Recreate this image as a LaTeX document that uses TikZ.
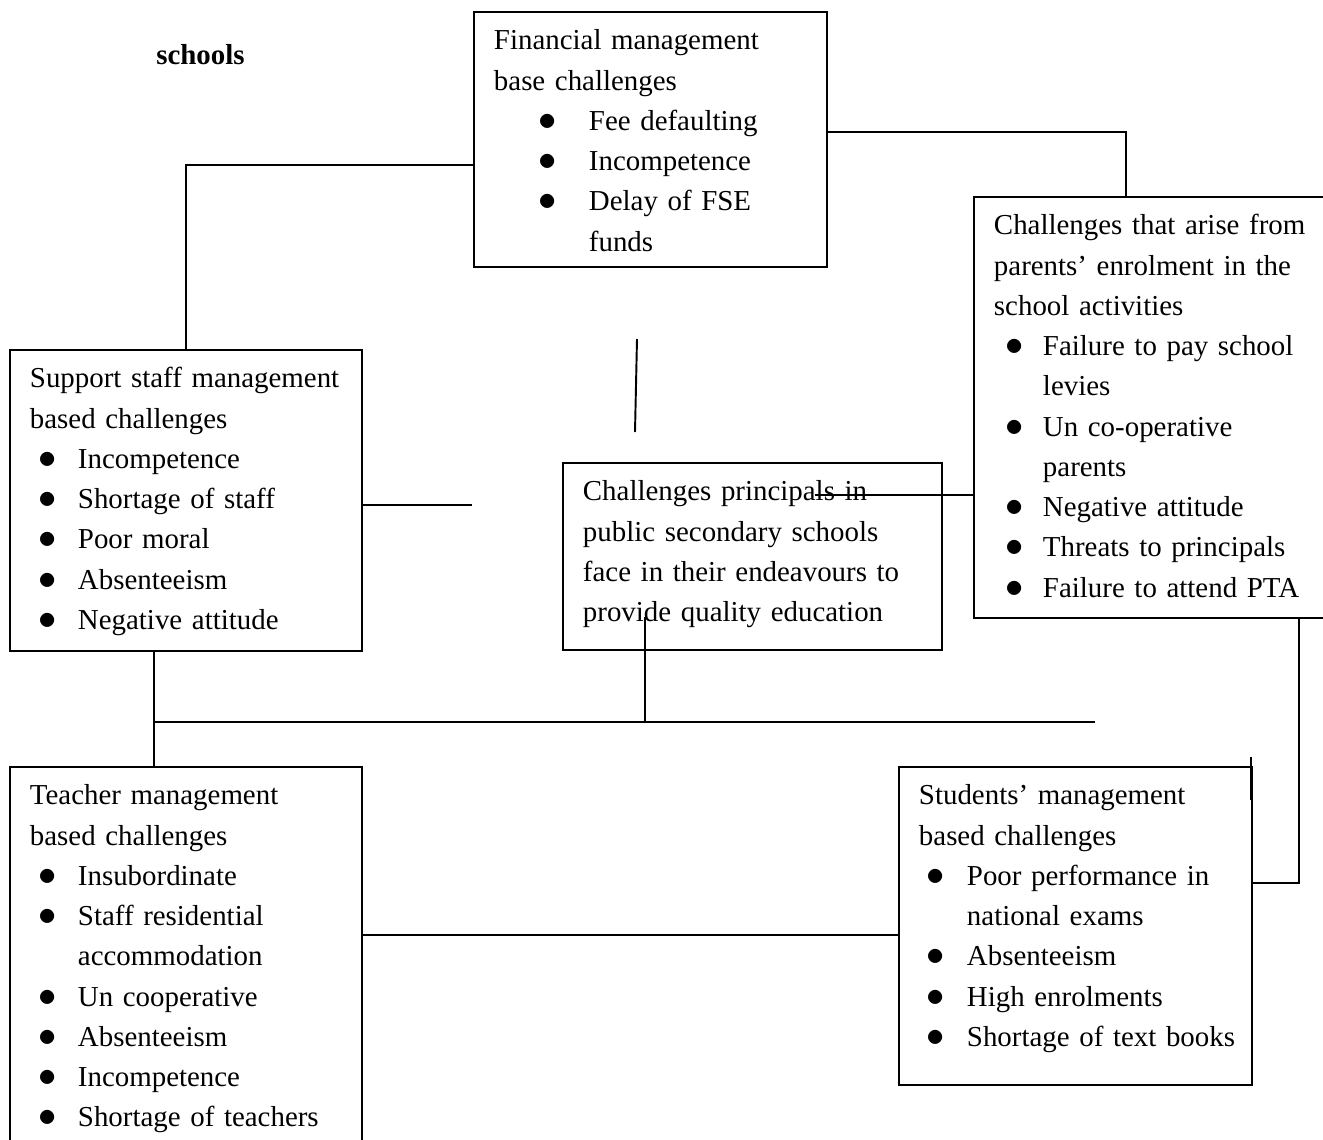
\documentclass[tikz,border=0pt]{standalone}
\usepackage{fontspec}
\setmainfont{Liberation Serif}
\usepackage{tikz}
\usetikzlibrary{calc}

\newdimen\pxu
\pxu=0.02cm
% bullet line: bullet centre, text offset, text
\newcommand{\itemb}[3]{\mbox{\makebox[#2\pxu][l]{\hspace*{#1\pxu}\makebox[0pt][c]{\scalebox{1.2}{$\bullet$}}}#3}}
% continued line of an item
\newcommand{\cont}[2]{\mbox{\hspace*{#1\pxu}#2}}

\begin{document}
\begin{tikzpicture}[
    x=0.02cm,
    y=-0.02cm,
    caixa/.style={
        draw=black,
        line width=1.1pt,
        anchor=north west,
        inner xsep=20\pxu,
        inner ysep=0pt,
        text height=38\pxu,
        align=left,
        font=\fontsize{16.45}{22.9}\selectfont
    },
    linha/.style={
        line width=1.1pt
    }
]

\useasboundingbox (0,0) rectangle (1323,1140);

% =================================================
% TITULO
% =================================================

\node[
    font=\fontsize{16.45}{22.9}\selectfont\bfseries
] (titulo) at (200.5,55)
{schools};

% =================================================
% CAIXAS
% =================================================

\node[
    caixa,
    text width=313\pxu,
    text depth=217\pxu
] (fin) at (473,11)
{
    \mbox{Financial management}\\
    \mbox{base challenges}\\
    \itemb{54}{95}{Fee defaulting}\\
    \itemb{54}{95}{Incompetence}\\
    \itemb{54}{95}{Delay of FSE}\\
    \cont{95}{funds}
};

\node[
    caixa,
    text width=320\pxu,
    text depth=383\pxu
] (par) at (973,196)
{
    \mbox{Challenges that arise from}\\
    \mbox{parents' enrolment in the}\\
    \mbox{school activities}\\
    \itemb{21}{49}{Failure to pay school}\\
    \cont{49}{levies}\\
    \itemb{21}{49}{Un co-operative}\\
    \cont{49}{parents}\\
    \itemb{21}{49}{Negative attitude}\\
    \itemb{21}{49}{Threats to principals}\\
    \itemb{21}{49}{Failure to attend PTA}
};

\node[
    caixa,
    text width=312\pxu,
    text depth=263\pxu
] (sup) at (9,349)
{
    \mbox{Support staff management}\\
    \mbox{based challenges}\\
    \itemb{18}{48}{Incompetence}\\
    \itemb{18}{48}{Shortage of staff}\\
    \itemb{18}{48}{Poor moral}\\
    \itemb{18}{48}{Absenteeism}\\
    \itemb{18}{48}{Negative attitude}
};

\node[
    caixa,
    text width=339\pxu,
    text depth=149\pxu
] (cen) at (562,462)
{
    \mbox{Challenges principals in}\\
    \mbox{public secondary schools}\\
    \mbox{face in their endeavours to}\\
    \mbox{provide quality education}
};

\node[
    caixa,
    text width=312\pxu,
    text depth=346\pxu
] (tea) at (9,766)
{
    \mbox{Teacher management}\\
    \mbox{based challenges}\\
    \itemb{18}{48}{Insubordinate}\\
    \itemb{18}{48}{Staff residential}\\
    \cont{48}{accommodation}\\
    \itemb{18}{48}{Un cooperative}\\
    \itemb{18}{48}{Absenteeism}\\
    \itemb{18}{48}{Incompetence}\\
    \itemb{18}{48}{Shortage of teachers}
};

\node[
    caixa,
    text width=313\pxu,
    text depth=280\pxu
] (stu) at (898,766)
{
    \mbox{Students' management}\\
    \mbox{based challenges}\\
    \itemb{17}{48}{Poor performance in}\\
    \cont{48}{national exams}\\
    \itemb{17}{48}{Absenteeism}\\
    \itemb{17}{48}{High enrolments}\\
    \itemb{17}{48}{Shortage of text books}
};

% =================================================
% LIGACOES
% =================================================

\coordinate (stubA) at (637,339);
\coordinate (stubB) at (635,432);
\coordinate (supfim) at (472,505);
\coordinate (cenin) at (815,495);
\coordinate (cenpe) at (645,617);
\coordinate (barra) at (1095,722);
\coordinate (stuA) at (1251,757);
\coordinate (stuB) at (1251,800);
\coordinate (supS) at ($(sup.south west)!0.41!(sup.south east)$);
\coordinate (teaN) at ($(tea.north west)!0.41!(tea.north east)$);
\coordinate (teaR) at ($(tea.north east)!0.4375!(tea.south east)$);

\draw[linha] ($(fin.north west)!0.6!(fin.south west)$) -| (sup.north);
\draw[linha] ($(fin.north east)!0.47!(fin.south east)$)
    -| ($(par.north west)!0.422!(par.north east)$);
\draw[linha] (stubA) -- (stubB);
\draw[linha] (sup.east |- supfim) -- (supfim);
\draw[linha] (cenin) -- (cenin -| par.west);
\draw[linha] ($(par.south west)!0.9!(par.south east)$)
    |- ($(stu.north east)!0.365!(stu.south east)$);
\draw[linha] (stuA) -- (stuB);
\draw[linha] (cenpe) -- (cenpe |- barra);
\draw[linha] (supS) -- (teaN);
\draw[linha] (supS |- barra) -- (barra);
\draw[linha] (teaR) -- (teaR -| stu.west);

\end{tikzpicture}
\end{document}
